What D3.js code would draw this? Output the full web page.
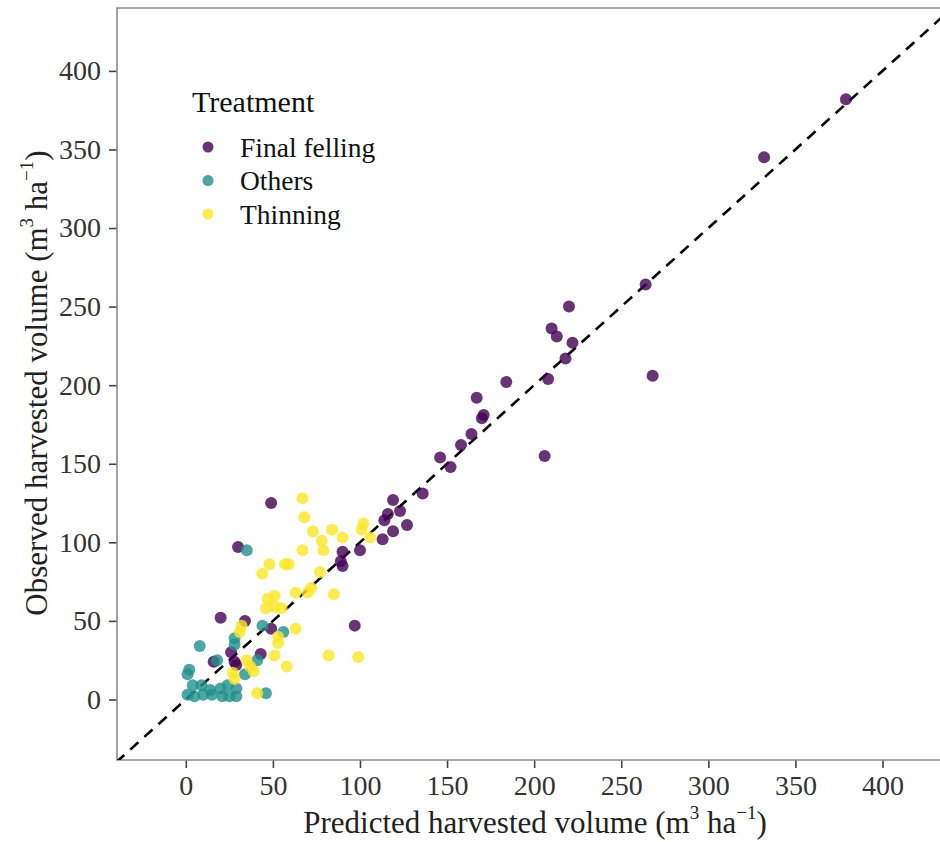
<!DOCTYPE html>
<html>
<head>
<meta charset="utf-8">
<script src="https://cdn.jsdelivr.net/npm/d3@7"></script>
<style>
  body { margin: 0; background: #fff; }
  text { font-family: "Liberation Serif", "DejaVu Serif", serif; }
</style>
</head>
<body>
<script>
// observed vs predicted harvested volume

// [predicted, observed]
var final_felling = [
    [379,382],[332,345],[264,264],[220,250],[210,236],[213,231],[222,227],[218,217],
    [208,204],[268,206],[206,155],[184,202],[167,192],[171,181],[170,179],[164,169],
    [158,162],[146,154],[152,148],[136,131],[119,127],[123,120],[127,111],[119,107],
    [114,114],[116,118],[113,102],[100,95],[90,94],[89,88],[90,85],[49,125],[30,97],
    [20,52],[34,50],[49,45],[97,47],[43,29],[26,30],[28,24],[29,22],[16,24]
];
var others = [
    [35,95],[44,47],[56,43],[28,39],[28,35],[8,34],[18,25],[41,25],[34,16],[2,19],
    [1,16],[4,9],[9,9],[14,6],[20,7],[24,9],[29,7],[1,3],[5,2],[10,3],[15,3],[21,2],
    [25,2],[29,2],[46,4]
];
var thinning = [
    [67,128],[68,116],[73,107],[84,108],[78,101],[90,103],[79,95],[67,95],[102,112],
    [101,108],[106,103],[48,86],[44,80],[57,86],[59,86],[77,81],[63,68],[70,68],[72,71],
    [85,67],[47,64],[51,66],[46,58],[51,59],[55,58],[32,47],[31,43],[53,40],[53,36],
    [63,45],[82,28],[99,27],[58,21],[51,28],[35,25],[37,21],[39,18],[27,17],[28,13],[41,4]
];
var treatments = ["Final felling", "Others", "Thinning"];
var colors = ["#440154", "#21908C", "#FDE725"];
var tick_values = [0, 50, 100, 150, 200, 250, 300, 350, 400];

var width = 940, height = 842;
var p_left = 117, p_top = 8, p_right = 940, p_bottom = 760;

var svg = d3.select("body").append("svg")
    .attr("width", width)
    .attr("height", height);

var x = d3.scaleLinear().domain([-39.5, 433]).range([p_left, p_right]);
var y = d3.scaleLinear().domain([-38.5, 440]).range([p_bottom, p_top]);

svg.append("clipPath").attr("id", "panel")
    .append("rect")
    .attr("x", p_left).attr("y", p_top)
    .attr("width", p_right - p_left).attr("height", p_bottom - p_top);

// ====== AXES ======
var xAxis = svg.append("g")
    .attr("transform", "translate(0," + p_bottom + ")")
    .call(d3.axisBottom(x).tickValues(tick_values).tickSize(8).tickPadding(7));
var yAxis = svg.append("g")
    .attr("transform", "translate(" + p_left + ",0)")
    .call(d3.axisLeft(y).tickValues(tick_values).tickSize(8).tickPadding(8));

[xAxis, yAxis].forEach(function(a) {
    a.select(".domain").remove();
    a.selectAll(".tick line").attr("stroke", "#444").attr("stroke-width", 1.6);
    a.selectAll(".tick text")
        .attr("fill", "#333")
        .style("font-size", "28px")
        .style("font-family", "'Liberation Serif', serif");
});

// frame (right side is cut off in the original)
svg.append("path")
    .attr("d", "M" + p_right + "," + p_top + "H" + p_left + "V" + p_bottom + "H" + p_right)
    .attr("fill", "none")
    .attr("stroke", "#8c8c8c")
    .attr("stroke-width", 1.6);

// ====== 1:1 LINE ======
svg.append("line")
    .attr("clip-path", "url(#panel)")
    .attr("x1", x(-40)).attr("y1", y(-40))
    .attr("x2", x(450)).attr("y2", y(450))
    .attr("stroke", "#000")
    .attr("stroke-width", 2.6)
    .attr("stroke-dasharray", "11,8");

// ====== POINTS ======
var groups = [final_felling, others, thinning];
groups.forEach(function(data, i) {
    svg.append("g").attr("clip-path", "url(#panel)")
        .selectAll("circle")
        .data(data)
        .enter().append("circle")
            .attr("cx", function(d) { return x(d[0]) })
            .attr("cy", function(d) { return y(d[1]) })
            .attr("r", 6)
            .style("fill", colors[i])
            .style("fill-opacity", 0.8);
});

// ====== LEGEND ======
var legend = svg.append("g");
legend.append("text")
    .attr("x", 192).attr("y", 112)
    .style("font-size", "30px")
    .attr("fill", "#111")
    .text("Treatment");
treatments.forEach(function(t, i) {
    var ly = 147 + i * 33.5;
    legend.append("circle")
        .attr("cx", 208).attr("cy", ly).attr("r", 5.5)
        .style("fill", colors[i]).style("fill-opacity", 0.8);
    legend.append("text")
        .attr("x", 240).attr("y", ly)
        .attr("dy", "0.35em")
        .style("font-size", "27.5px")
        .attr("fill", "#111")
        .text(t);
});

// ====== TITLES ======
function unit_label(sel, lead) {
    sel.append("tspan").text(lead + " (m");
    sel.append("tspan").attr("dy", -14).style("font-size", "19px").text("3");
    sel.append("tspan").attr("dy", 14).text(" ha");
    sel.append("tspan").attr("dy", -14).style("font-size", "19px").text("\u22121");
    sel.append("tspan").attr("dy", 14).text(")");
}

var xt = svg.append("text")
    .attr("x", 535).attr("y", 833)
    .attr("text-anchor", "middle")
    .style("font-size", "31px")
    .attr("fill", "#222");
unit_label(xt, "Predicted harvested volume");

var yt = svg.append("text")
    .attr("transform", "translate(47,383) rotate(-90)")
    .attr("text-anchor", "middle")
    .style("font-size", "31px")
    .attr("fill", "#222");
unit_label(yt, "Observed harvested volume");
</script>
</body>
</html>
